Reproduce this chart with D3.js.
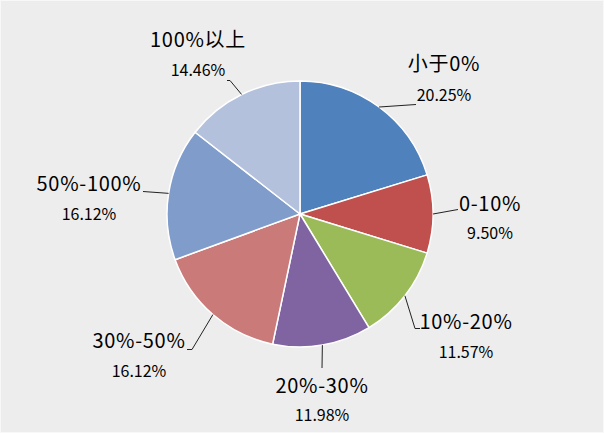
<!DOCTYPE html>
<html>
<head>
<meta charset="utf-8">
<script src="https://cdn.jsdelivr.net/npm/d3@7"></script>
<style>
html,body{margin:0;padding:0;background:#fff;}
svg{display:block;}
</style>
</head>
<body>
<svg id="chart" width="604" height="433"></svg>
<script>
const categories = ["小于0%", "0-10%", "10%-20%", "20%-30%", "30%-50%", "50%-100%", "100%以上"];
const values = [20.25, 9.50, 11.57, 11.98, 16.12, 16.12, 14.46];
const valueLabels = ["20.25%", "9.50%", "11.57%", "11.98%", "16.12%", "16.12%", "14.46%"];
const colors = ["#4F81BD", "#C0504D", "#9BBB59", "#8064A2", "#CA7A79", "#7F9CCB", "#B4C1DD"];

// label layout: name anchor (x, baseline), value baseline, leader line bends
const labelLayout = [
  {x: 444, ny: 71, vy: 101, pts: [[416, 104.5]]},
  {x: 490, ny: 211, vy: 239, pts: [[458, 209.5]]},
  {x: 466, ny: 329, vy: 358, pts: [[415, 328.5], [420, 328.5]]},
  {x: 322, ny: 393, vy: 421, pts: [[322, 368]]},
  {x: 139, ny: 348, vy: 377, pts: [[192, 349.5], [187, 349.5]]},
  {x: 89,  ny: 191, vy: 220, pts: [[143, 191.5]]},
  {x: 198, ny: 47,  vy: 76,  pts: [[230, 80.5], [227, 80.5]]}
];

const svg = d3.select("#chart");
const W = 604, H = 433;
svg.append("rect").attr("x", 0.5).attr("y", 0.5).attr("width", W - 1).attr("height", H - 1)
  .attr("fill", "#EDEDED").attr("stroke", "#F8F8F8").attr("stroke-width", 1);

const cx = 300, cy = 214, R = 133;
const g = svg.append("g").attr("transform", `translate(${cx},${cy})`);

const pie = d3.pie().sort(null).value(d => d)(values);
const arc = d3.arc().innerRadius(0).outerRadius(R);

g.selectAll("path.slice").data(pie).enter().append("path")
  .attr("class", "slice")
  .attr("d", arc)
  .attr("fill", (d, i) => colors[i])
  .attr("stroke", "#ffffff")
  .attr("stroke-width", 1.5)
  .attr("stroke-linejoin", "round");

const line = d3.line();
pie.forEach((d, i) => {
  const a = (d.startAngle + d.endAngle) / 2;
  const sx = cx + R * Math.sin(a), sy = cy - R * Math.cos(a);
  const L = labelLayout[i];
  const pts = [[sx, sy]].concat(L.pts);
  svg.append("path").attr("d", line(pts)).attr("fill", "none")
    .attr("stroke", "#222").attr("stroke-width", 1);
  svg.append("text").attr("x", L.x).attr("y", L.ny)
    .attr("text-anchor", "middle")
    .attr("font-family", "'Noto Sans CJK SC', 'Noto Sans', sans-serif")
    .attr("font-size", 20).attr("fill", "#000")
    .attr("letter-spacing", "0.7px")
    .text(categories[i]);
  svg.append("text").attr("x", L.x).attr("y", L.vy)
    .attr("text-anchor", "middle")
    .attr("font-family", "'Noto Sans CJK SC', 'Noto Sans', sans-serif")
    .attr("font-size", 16).attr("fill", "#000")
    .text(valueLabels[i]);
});
</script>
</body>
</html>
